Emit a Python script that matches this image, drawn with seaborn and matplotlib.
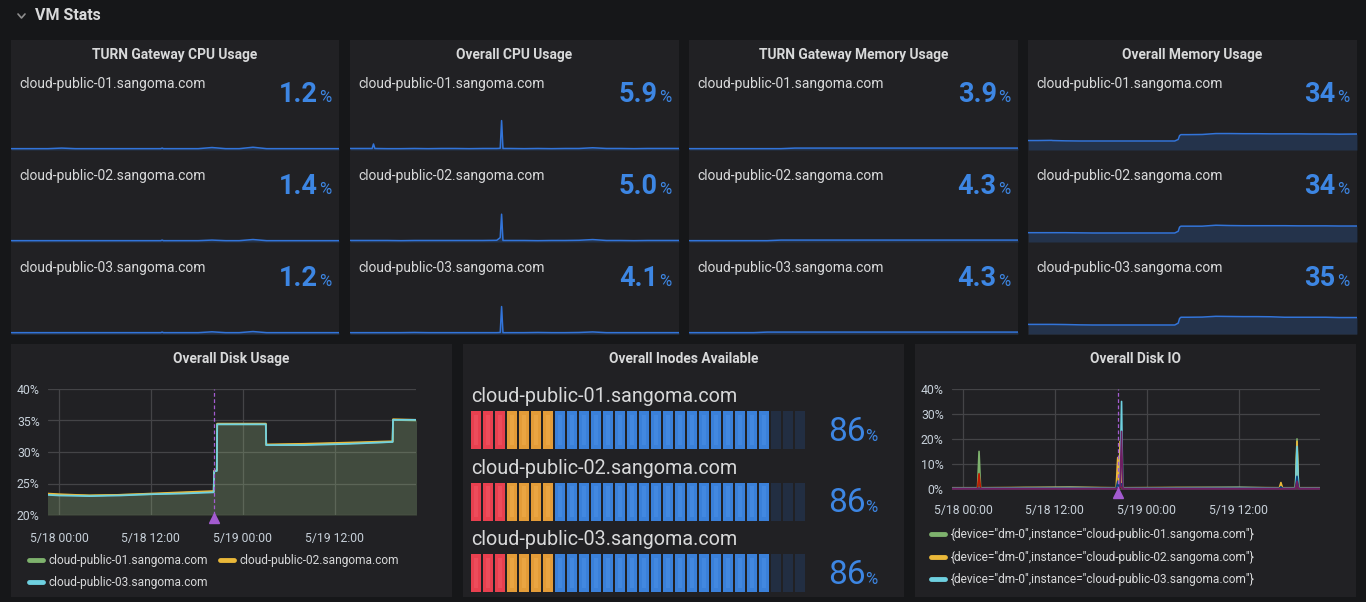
import numpy as np
import pandas as pd
import matplotlib
matplotlib.use("Agg")
import matplotlib.pyplot as plt
from matplotlib.lines import Line2D
from matplotlib.patches import Rectangle
from matplotlib.transforms import offset_copy
import seaborn as sns

# ---------------- data ----------------
hosts = ['cloud-public-01.sangoma.com', 'cloud-public-02.sangoma.com', 'cloud-public-03.sangoma.com']
io_labels = ['{device="dm-0",instance="cloud-public-01.sangoma.com"}',
             '{device="dm-0",instance="cloud-public-02.sangoma.com"}',
             '{device="dm-0",instance="cloud-public-03.sangoma.com"}']
stat_titles = ['TURN Gateway CPU Usage', 'Overall CPU Usage', 'TURN Gateway Memory Usage', 'Overall Memory Usage']
stat_values = [['1.2', '1.4', '1.2'], ['5.9', '5.0', '4.1'], ['3.9', '4.3', '4.3'], ['34', '34', '35']]

# time axis in hours from 5/18 00:00
time_ticks = [0, 12, 24, 36]
time_labels = ['5/18 00:00', '5/18 12:00', '5/19 00:00', '5/19 12:00']
time_window = (-1.43, 46.6)
annotation_t = 20.3

# sparklines (hours)
spark_t = [-1.4, 0, 1.8, 2.0, 2.2, 4, 6, 8, 10, 12, 14, 16, 18, 20, 20.5, 20.7, 20.9, 22, 24, 26,
           28, 30, 32, 34, 36, 38, 40, 42, 44, 46.6]
turn_cpu_01 = [1.1, 1.1, 1.1, 1.1, 1.1, 1.1, 1.2, 1.1, 1.1, 1.1, 1.1, 1.1, 1.1, 1.1, 1.1, 1.2, 1.1, 1.1, 1.1, 1.1,
               1.3, 1.1, 1.1, 1.35, 1.1, 1.1, 1.1, 1.1, 1.1, 1.1]
turn_cpu_02 = [1.2, 1.2, 1.2, 1.2, 1.2, 1.2, 1.2, 1.2, 1.2, 1.2, 1.2, 1.2, 1.2, 1.2, 1.2, 1.3, 1.2, 1.2, 1.2, 1.2,
               1.3, 1.2, 1.2, 1.4, 1.2, 1.2, 1.2, 1.2, 1.2, 1.2]
turn_cpu_03 = [1.1, 1.1, 1.1, 1.1, 1.1, 1.1, 1.1, 1.1, 1.1, 1.1, 1.1, 1.1, 1.1, 1.1, 1.1, 1.2, 1.1, 1.1, 1.1, 1.1,
               1.25, 1.1, 1.1, 1.3, 1.1, 1.1, 1.1, 1.1, 1.1, 1.1]
cpu_01 = [5.5, 5.5, 5.5, 8.0, 5.5, 5.4, 5.4, 5.5, 5.4, 5.5, 5.5, 5.4, 5.5, 5.5, 5.6, 21.0, 5.5, 5.5, 5.4, 5.5,
          5.4, 5.5, 5.5, 5.9, 5.5, 5.5, 5.4, 5.5, 5.5, 5.5]
cpu_02 = [4.9, 4.9, 4.9, 4.9, 4.9, 4.9, 4.8, 4.9, 4.9, 4.9, 4.9, 4.9, 4.9, 5.0, 6.5, 19.5, 4.9, 4.9, 4.9, 4.8,
          4.9, 4.9, 5.0, 5.4, 4.9, 4.9, 4.8, 4.9, 4.9, 4.9]
cpu_03 = [4.0, 4.0, 4.0, 4.0, 4.0, 4.0, 4.0, 4.1, 4.0, 4.0, 4.0, 4.0, 4.0, 4.0, 4.1, 18.5, 4.0, 4.0, 4.0, 4.1,
          4.0, 4.0, 4.1, 4.4, 4.0, 4.0, 4.0, 4.0, 4.0, 4.0]
turn_mem_01 = [3.8, 3.8, 3.8, 3.8, 3.8, 3.8, 3.8, 3.8, 3.8, 3.8, 3.9, 3.9, 3.9, 3.9, 3.9, 3.9, 3.9, 3.9, 3.9, 3.9,
               3.9, 3.9, 3.9, 3.9, 3.9, 3.9, 3.9, 3.9, 3.9, 3.9]
turn_mem_02 = [4.2, 4.2, 4.2, 4.2, 4.2, 4.2, 4.2, 4.2, 4.2, 4.3, 4.3, 4.3, 4.3, 4.3, 4.3, 4.3, 4.3, 4.3, 4.3, 4.3,
               4.3, 4.3, 4.3, 4.3, 4.3, 4.3, 4.3, 4.3, 4.3, 4.3]
turn_mem_03 = [4.2, 4.2, 4.2, 4.2, 4.2, 4.2, 4.2, 4.2, 4.3, 4.3, 4.3, 4.3, 4.3, 4.3, 4.3, 4.3, 4.3, 4.3, 4.3, 4.3,
               4.3, 4.3, 4.3, 4.3, 4.3, 4.3, 4.3, 4.3, 4.3, 4.3]
mem_01 = [29.8, 29.8, 29.9, 29.9, 29.8, 29.6, 29.5, 29.5, 29.5, 29.5, 29.5, 29.5, 29.5, 29.5, 30.5, 33.0, 33.6, 33.6,
          33.7, 34.3, 34.3, 34.2, 34.2, 34.1, 34.1, 34.1, 34.0, 34.0, 33.9, 34.0]
mem_02 = [29.6, 29.6, 29.6, 29.6, 29.6, 29.6, 29.5, 29.4, 29.4, 29.4, 29.4, 29.4, 29.4, 29.4, 30.5, 33.2, 33.8, 33.8,
          33.8, 34.4, 34.2, 34.1, 34.1, 34.1, 34.1, 34.0, 34.0, 34.0, 33.9, 33.9]
mem_03 = [30.0, 30.0, 30.0, 30.0, 30.0, 29.9, 29.7, 29.6, 29.6, 29.6, 29.6, 29.6, 29.6, 29.6, 30.8, 33.8, 34.6, 34.6,
          34.7, 35.2, 35.1, 35.0, 35.0, 34.9, 34.6, 34.6, 34.6, 34.6, 34.4, 34.4]
spark_series = [[turn_cpu_01, turn_cpu_02, turn_cpu_03], [cpu_01, cpu_02, cpu_03],
                [turn_mem_01, turn_mem_02, turn_mem_03], [mem_01, mem_02, mem_03]]

# Overall Disk Usage (%)
disk_t = [-1.5, 0, 4, 8, 12, 16, 20.2, 20.25, 20.6, 20.65, 24, 27.0, 27.05, 32, 38, 43.55, 43.6, 46.7]
disk_01 = [23.3, 23.2, 23.1, 23.2, 23.3, 23.5, 23.7, 27.0, 27.0, 34.4, 34.4, 34.4, 31.1, 31.2, 31.4, 31.6, 35.1, 35.0]
disk_02 = [23.4, 23.3, 23.1, 23.2, 23.4, 23.6, 23.8, 27.0, 27.1, 34.5, 34.5, 34.5, 31.2, 31.3, 31.5, 31.7, 35.2, 35.1]
disk_03 = [23.2, 23.1, 23.0, 23.1, 23.3, 23.4, 23.6, 26.9, 27.0, 34.4, 34.4, 34.4, 31.1, 31.1, 31.3, 31.6, 35.1, 35.1]

# Overall Disk IO (%)
io_t = [-1.5, 1.9, 2.1, 2.3, 8, 14, 20.0, 20.2, 20.35, 20.5, 20.7, 20.85, 28, 36, 41.3, 41.5, 41.7, 43.4, 43.6,
        43.8, 46.7]
io_01 = [0.3, 0.3, 15.0, 0.3, 0.4, 0.3, 0.3, 0.8, 0.3, 1.5, 0.5, 0.3, 0.3, 0.4, 0.3, 0.3, 0.3, 0.3, 20.0, 0.3, 0.3]
io_02 = [0.4, 0.4, 0.5, 0.4, 0.5, 0.6, 0.4, 12.5, 0.5, 19.0, 0.8, 0.4, 0.5, 0.5, 0.4, 2.5, 0.4, 0.4, 19.0, 0.4, 0.4]
io_03 = [0.3, 0.3, 0.3, 0.3, 0.4, 0.5, 0.3, 0.5, 0.4, 1.5, 35.0, 0.3, 0.4, 0.5, 0.3, 0.3, 0.3, 0.3, 17.0, 0.3, 0.3]
io_sda_01 = [0.1, 0.1, 6.0, 0.1, 0.1, 0.1, 0.1, 0.3, 0.1, 0.5, 1.0, 0.1, 0.1, 0.1, 0.1, 0.1, 0.1, 0.1, 1.0, 0.1, 0.1]
io_sda_02 = [0.1, 0.1, 0.2, 0.1, 0.1, 0.1, 0.1, 3.0, 0.1, 1.5, 2.0, 0.1, 0.1, 0.1, 0.1, 0.8, 0.1, 0.1, 5.0, 0.1, 0.1]
io_sda_03 = [0.0, 0.0, 0.1, 0.0, 0.0, 0.0, 0.0, 0.2, 0.0, 0.5, 23.0, 0.0, 0.0, 0.0, 0.0, 0.0, 0.0, 0.0, 3.0, 0.0, 0.0]

# Overall Inodes Available (%)
inode_values = [86, 86, 86]
inode_cells = 28
inode_thresholds = [0, 10, 25]

# ---------------- style ----------------
W, H = 1366, 602
PAGE = '#161719'
PANEL = '#212124'
TEXT = '#d8d9da'
TICK = '#c7d0d9'
GRID = '#444447'
BLUE = '#3d86e3'
SPARK = '#3274d9'
ANNOT = '#a35bd0'
series_colors = ['#7eb26d', '#eab839', '#6ed0e0']
extra_colors = ['#bf1b00', '#0a437c', '#6d1f62']
threshold_colors = ['#e8404f', '#e39c38', '#3a80d9']
threshold_glow = ['#f25766', '#f0ae4c', '#4a8fe6']
UNLIT = '#222e42'

sns.set_style("dark", {'axes.facecolor': 'none', 'figure.facecolor': PAGE})
plt.rcParams['font.family'] = ['Roboto', 'DejaVu Sans']

fig = plt.figure(figsize=(W / 100, H / 100), dpi=100, facecolor=PAGE)
renderer = fig.canvas.get_renderer()


def box(x0, y0, x1, y1):
    return [x0 / W, 1 - y1 / H, (x1 - x0) / W, (y1 - y0) / H]


def panel(x0, y0, x1, y1, title):
    fig.add_artist(Rectangle((x0 / W, 1 - y1 / H), (x1 - x0) / W, (y1 - y0) / H,
                             transform=fig.transFigure, facecolor=PANEL, edgecolor='none', zorder=-5))
    fig.text((x0 + x1) / 2 / W, 1 - (y0 + 15) / H, title, ha='center', va='center',
             fontsize=9.9, fontweight='bold', color=TEXT)


def value_text(x_right, y_base, val, size, pct_size, weight, gap):
    pct = fig.text(x_right / W, 1 - y_base / H, '%', ha='right', va='baseline',
                   fontsize=pct_size, color=BLUE)
    bb = pct.get_window_extent(renderer)
    fig.text((bb.x0 - gap) / W, 1 - y_base / H, val, ha='right', va='baseline',
             fontsize=size, fontweight=weight, color=BLUE)


# header
fig.text(35 / W, 1 - 15 / H, 'VM Stats', ha='left', va='center', fontsize=11.5, fontweight='bold', color=TEXT)
fig.add_artist(Line2D([18 / W, 21.5 / W, 25 / W], [1 - 14 / H, 1 - 18 / H, 1 - 14 / H],
                      transform=fig.transFigure, color='#8e8e8e', lw=1.2))

# ---------------- stat panels ----------------
stat_x = [(11, 339), (350, 679), (689, 1018), (1028, 1357)]
spark_span = [8, 25, 8, 29]
spark_pad = [0.03, 0.03, 0.03, 0.2]
for p, (x0, x1) in enumerate(stat_x):
    panel(x0, 40, x1, 335, stat_titles[p])
    for r in range(3):
        base = 150 + 92 * r
        fig.text((x0 + 8) / W, 1 - (84 + 92 * r) / H, hosts[r], ha='left', va='center',
                 fontsize=10, color=TEXT)
        value_text(x1 - 8, 102 + 92 * r, stat_values[p][r], 19.5, 12, 'bold', 1)
        ax = fig.add_axes(box(x0, base - 45, x1, base))
        vals = spark_series[p][r]
        df = pd.DataFrame({'t': spark_t, 'v': vals})
        lo = min(vals) - spark_pad[p] * spark_span[p]
        ax.fill_between(spark_t, vals, lo, color=SPARK, alpha=0.22, lw=0)
        sns.lineplot(data=df, x='t', y='v', ax=ax, color=SPARK, lw=1.1, estimator=None)
        ax.set_xlim(*time_window)
        ax.set_ylim(lo, lo + spark_span[p])
        ax.axis('off')


def style_graph(ax, yticks, ylim, pad_x):
    ax.set_xlim(*time_window)
    ax.set_ylim(*ylim)
    ax.set_xticks(time_ticks)
    ax.set_xticklabels(time_labels)
    ax.set_yticks(yticks)
    ax.set_yticklabels([f'{v}%' for v in yticks])
    ax.set_xlabel('')
    ax.set_ylabel('')
    ax.grid(True, color=GRID, lw=0.9)
    for s in ax.spines.values():
        s.set_visible(False)
    ax.tick_params(axis='both', length=0, colors=TICK, labelsize=8.8)
    ax.tick_params(axis='x', pad=pad_x)
    ax.tick_params(axis='y', pad=6)
    ax.axvline(annotation_t, color=ANNOT, ls=(0, (3, 2)), lw=0.9)
    ax.plot([annotation_t], [ylim[0]], marker='^', ms=6.5, color=ANNOT, clip_on=False, zorder=10,
            transform=offset_copy(ax.transData, fig=fig, y=-3, units='dots'))


legend_kw = dict(loc='upper left', bbox_transform=fig.transFigure, frameon=False, fontsize=8.6,
                 labelcolor=TEXT, handlelength=1.2, handletextpad=0.45, labelspacing=0.78,
                 borderaxespad=0, borderpad=0)

# ---------------- Overall Disk Usage ----------------
panel(11, 344, 452, 597, 'Overall Disk Usage')
ax = fig.add_axes(box(48, 389, 416, 515))
disk_df = pd.DataFrame({'t': disk_t * 3, 'v': disk_01 + disk_02 + disk_03,
                        'host': [h for h in hosts for _ in disk_t]})
for vals, c in zip([disk_01, disk_02, disk_03], series_colors):
    ax.fill_between(disk_t, vals, 20, color=c, alpha=0.1, lw=0)
sns.lineplot(data=disk_df, x='t', y='v', hue='host', palette=series_colors, ax=ax, lw=1.3,
             estimator=None, legend=False)
style_graph(ax, [20, 25, 30, 35, 40], (20, 40), 12)
handles = [Line2D([], [], color=c, lw=3.5, solid_capstyle='round') for c in series_colors]
ax.legend([handles[0], handles[2], handles[1]], [hosts[0], hosts[2], hosts[1]], ncol=2,
          bbox_to_anchor=(29 / W, 1 - 554 / H), columnspacing=1.0, **legend_kw)

# ---------------- Overall Inodes Available ----------------
panel(463, 344, 904, 597, 'Overall Inodes Available')
cell_vals = np.arange(inode_cells) * 100 / inode_cells
for r in range(3):
    top = 411 + 71.5 * r
    fig.text(471 / W, 1 - (402 + 71.5 * r) / H, hosts[r], ha='left', va='baseline', fontsize=14.2, color=TEXT)
    value_text(877, 441 + 71.5 * r, str(inode_values[r]), 24, 12, 'normal', -1)
    axg = fig.add_axes(box(471, top, 805, top + 38))
    cols, glow = [], []
    for cv in cell_vals:
        if cv <= inode_values[r]:
            idx = max(i for i, t in enumerate(inode_thresholds) if cv >= t)
            cols.append(threshold_colors[idx])
            glow.append(threshold_glow[idx])
        else:
            cols.append(UNLIT)
            glow.append(UNLIT)
    axg.bar(np.arange(inode_cells), 1, width=0.8, color=cols, edgecolor='none', linewidth=0)
    axg.bar(np.arange(inode_cells), 0.8, bottom=0.1, width=0.35, color=glow, alpha=0.55,
            edgecolor='none', linewidth=0)
    axg.set_xlim(-0.4, inode_cells - 0.6)
    axg.set_ylim(0, 1)
    axg.axis('off')

# ---------------- Overall Disk IO ----------------
panel(915, 344, 1356, 597, 'Overall Disk IO')
ax = fig.add_axes(box(952, 389, 1320, 490))
io_names = io_labels + ['_sda-01', '_sda-02', '_sda-03']
io_all = [io_01, io_02, io_03, io_sda_01, io_sda_02, io_sda_03]
io_df = pd.DataFrame({'t': io_t * 6, 'v': sum(io_all, []), 'series': [n for n in io_names for _ in io_t]})
sns.lineplot(data=io_df, x='t', y='v', hue='series', hue_order=io_names,
             palette=series_colors + extra_colors, ax=ax, lw=1.2, estimator=None, legend=False)
style_graph(ax, [0, 10, 20, 30, 40], (-0.5, 40), 10)
ax.legend(handles, io_labels, bbox_to_anchor=(931 / W, 1 - 528 / H), **legend_kw)

fig.savefig('out.png', dpi=100, facecolor=PAGE)
